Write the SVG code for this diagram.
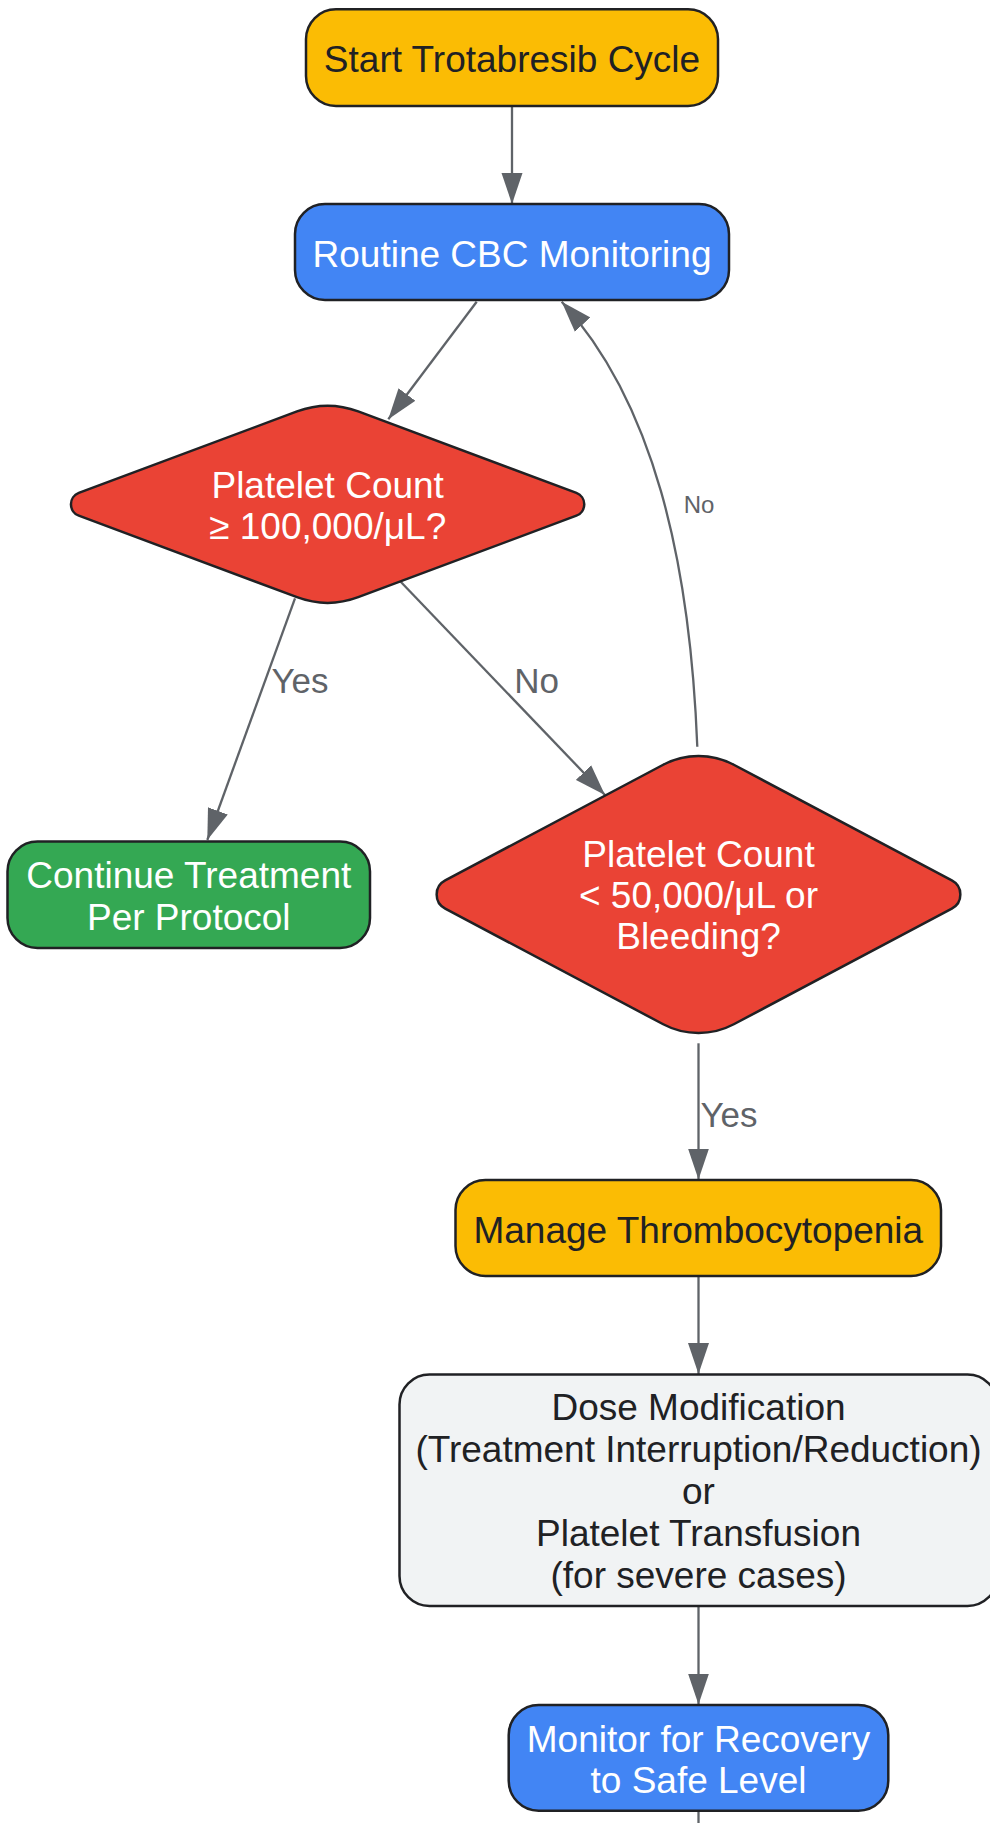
<svg xmlns="http://www.w3.org/2000/svg" width="990" height="1823" viewBox="0 0 990 1823">
<defs>
<marker id="arrow" markerUnits="userSpaceOnUse" markerWidth="31" markerHeight="22" viewBox="0 0 31 21" refX="31" refY="10.5" orient="auto">
<path d="M0,0 L31,10.5 L0,21 z" fill="#5f6368"/>
</marker>
<style>
.node rect, .node path { stroke:#202124; stroke-width:2.5; }
.yellow { fill:#fbbc04; }
.blue { fill:#4285f4; }
.red { fill:#ea4335; }
.green { fill:#34a853; }
.gray { fill:#f1f3f4; }
text { font-family:"Liberation Sans", Arial, sans-serif; text-anchor:middle; }
.t { font-size:37px; }
.dark { fill:#202124; }
.light { fill:#ffffff; }
.edge { fill:none; stroke:#5f6368; stroke-width:2.3; marker-end:url(#arrow); }
.plain { fill:none; stroke:#5f6368; stroke-width:2.3; }
.lbl { font-size:35px; fill:#5f6368; }
.lbls { font-size:24px; fill:#5f6368; }
</style>
</defs>
<rect width="990" height="1823" fill="#ffffff"/>

<g id="connectors">
<path class="edge" d="M512,106 L512,204"/>
<path class="edge" d="M476.7,301.7 L388.3,419.3"/>
<path class="edge" d="M295,598.3 L207.3,840"/>
<path class="edge" d="M400.7,581.7 L605,795"/>
<path class="edge" d="M697.3,746.7 C690,560 653.2,401.7 561.7,301.7"/>
<path class="edge" d="M698.5,1043.3 L698.5,1179.5"/>
<path class="edge" d="M698.5,1276 L698.5,1374"/>
<path class="edge" d="M698.5,1606 L698.5,1704.5"/>
<path class="plain" d="M698.5,1811 L698.5,1830"/>
<text class="lbl" x="300" y="692.5">Yes</text>
<text class="lbl" x="536.7" y="693.3">No</text>
<text class="lbls" x="699" y="513.3">No</text>
<text class="lbl" x="729" y="1126.7">Yes</text>
</g>

<g id="start" class="node">
<rect class="yellow" x="306" y="9.3" width="412" height="96.7" rx="30" ry="30"/>
<text class="t dark" x="512" y="71.7">Start Trotabresib Cycle</text>
</g>

<g id="routine" class="node">
<rect class="blue" x="295" y="204" width="434" height="96" rx="30" ry="30"/>
<text class="t light" x="512" y="266.7">Routine CBC Monitoring</text>
</g>

<g id="decision1" class="node">
<path class="red" d="M358.2,411.4 L576.4,492.9 A12.2,12.2 0 0 1 576.4,515.7 L358.2,597.2 A87.3,87.3 0 0 1 297,597.2 L78.8,515.7 A12.2,12.2 0 0 1 78.8,492.9 L297,411.4 A87.3,87.3 0 0 1 358.2,411.4 Z"/>
<text class="t light" x="327.7" y="497.8">Platelet Count</text>
<text class="t light" x="327.7" y="539.3">≥ 100,000/μL?</text>
</g>

<g id="continue" class="node">
<rect class="green" x="7.5" y="841.5" width="362.5" height="106.5" rx="30" ry="30"/>
<text class="t light" x="188.8" y="888.3">Continue Treatment</text>
<text class="t light" x="188.8" y="930">Per Protocol</text>
</g>

<g id="decision2" class="node">
<path class="red" d="M733.8,764.75 L951.8,880.4 A15.9,15.9 0 0 1 951.8,908.6 L733.8,1024.25 A75.4,75.4 0 0 1 663.2,1024.25 L445.2,908.6 A15.9,15.9 0 0 1 445.2,880.4 L663.2,764.75 A75.4,75.4 0 0 1 733.8,764.75 Z"/>
<text class="t light" x="698.5" y="867.3">Platelet Count</text>
<text class="t light" x="698.5" y="908.3">&lt; 50,000/μL or</text>
<text class="t light" x="698.5" y="949.3">Bleeding?</text>
</g>

<g id="manage" class="node">
<rect class="yellow" x="455.5" y="1180" width="485.5" height="96" rx="30" ry="30"/>
<text class="t dark" x="698.3" y="1242.5">Manage Thrombocytopenia</text>
</g>

<g id="dose" class="node">
<rect class="gray" x="399.5" y="1374.5" width="598" height="231.5" rx="30" ry="30"/>
<text class="t dark" x="698.5" y="1420">Dose Modification</text>
<text class="t dark" x="698.5" y="1462">(Treatment Interruption/Reduction)</text>
<text class="t dark" x="698.5" y="1504">or</text>
<text class="t dark" x="698.5" y="1546">Platelet Transfusion</text>
<text class="t dark" x="698.5" y="1588">(for severe cases)</text>
</g>

<g id="monitor" class="node">
<rect class="blue" x="508.7" y="1705" width="379.6" height="105.7" rx="30" ry="30"/>
<text class="t light" x="698.5" y="1751.7">Monitor for Recovery</text>
<text class="t light" x="698.5" y="1792.7">to Safe Level</text>
</g>
</svg>
